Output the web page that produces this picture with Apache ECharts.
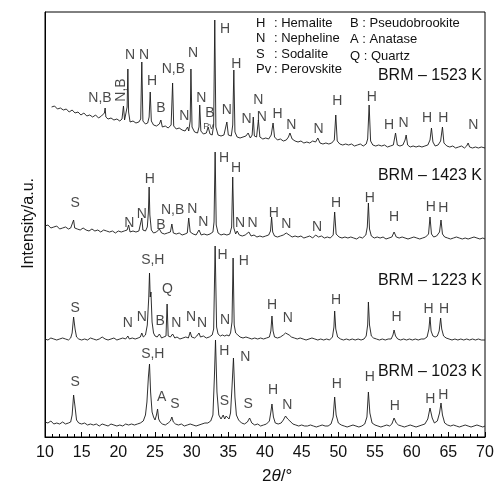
<!DOCTYPE html>
<html>
<head>
<meta charset="utf-8">
<script src="https://cdn.jsdelivr.net/npm/echarts@6/dist/echarts.min.js"></script>
<style>
html,body{margin:0;padding:0;background:#fff}
#main{width:497px;height:486px}
</style>
</head>
<body>
<div id="main"></div>
<script>
// 2theta (deg) / stacked intensity (a.u., already offset per sample)
var p1023 = [[10.0,15],[10.4,14],[10.8,16],[11.2,13],[11.6,14],[12.0,13],[12.4,15],[12.8,13],[13.2,14],[13.5,15],[13.7,22],[13.9,42],[14.1,30],[14.3,17],[14.6,14],[15.0,13],[15.4,14],[15.8,12],[16.2,13],[16.6,12],[17.0,13],[17.4,11],[17.8,13],[18.2,12],[18.6,11],[19.0,13],[19.4,12],[19.8,11],[20.2,12],[20.6,11],[21.0,13],[21.4,12],[21.8,13],[22.2,12],[22.6,13],[23.0,14],[23.4,16],[23.7,22],[23.9,35],[24.1,60],[24.25,73],[24.4,45],[24.6,25],[24.8,20],[25.0,17],[25.2,22],[25.35,28],[25.5,18],[25.7,15],[26.0,13],[26.4,12],[26.8,14],[27.1,16],[27.3,20],[27.5,15],[27.8,13],[28.2,12],[28.6,13],[29.0,11],[29.4,12],[29.8,13],[30.2,12],[30.6,11],[31.0,12],[31.4,13],[31.8,14],[32.2,14],[32.6,16],[32.9,22],[33.1,60],[33.25,97],[33.45,45],[33.7,22],[34.0,18],[34.3,22],[34.5,18],[34.7,21],[34.9,19],[35.1,18],[35.3,24],[35.5,50],[35.7,79],[35.9,40],[36.1,22],[36.4,17],[36.8,14],[37.2,13],[37.6,15],[37.9,19],[38.2,14],[38.6,12],[39.0,13],[39.4,11],[39.8,12],[40.2,13],[40.6,16],[40.8,25],[40.95,33],[41.15,20],[41.4,14],[41.8,13],[42.2,14],[42.5,17],[42.8,21],[43.1,18],[43.4,16],[43.8,13],[44.2,12],[44.6,11],[45.0,12],[45.4,11],[45.8,11],[46.2,12],[46.6,11],[47.0,10],[47.4,11],[47.8,12],[48.2,11],[48.6,11],[49.0,13],[49.3,20],[49.5,40],[49.7,22],[50.0,14],[50.4,12],[50.8,11],[51.2,10],[51.6,11],[52.0,12],[52.4,11],[52.8,10],[53.2,11],[53.6,13],[53.9,20],[54.1,45],[54.3,24],[54.6,14],[55.0,12],[55.4,11],[55.8,10],[56.2,11],[56.6,12],[57.0,11],[57.3,13],[57.6,19],[57.9,14],[58.2,12],[58.6,11],[59.0,10],[59.4,11],[59.8,12],[60.2,11],[60.6,10],[61.0,11],[61.4,12],[61.8,13],[62.2,18],[62.5,29],[62.8,19],[63.1,14],[63.5,16],[63.8,24],[64.0,34],[64.2,22],[64.5,14],[64.9,12],[65.3,11],[65.7,12],[66.1,11],[66.5,10],[66.9,11],[67.3,12],[67.7,11],[68.1,10],[68.5,11],[68.9,12],[69.3,11],[69.7,10],[70.0,11]];

var p1223 = [[10.0,98],[10.4,97],[10.8,99],[11.2,98],[11.6,97],[12.0,98],[12.4,99],[12.8,98],[13.2,97],[13.5,99],[13.7,104],[13.9,120],[14.1,108],[14.3,100],[14.6,98],[15.0,97],[15.4,98],[15.8,97],[16.2,99],[16.6,98],[17.0,97],[17.4,98],[17.8,100],[18.2,98],[18.6,97],[19.0,98],[19.4,99],[19.8,97],[20.2,98],[20.6,99],[21.0,98],[21.3,101],[21.5,98],[21.9,99],[22.3,98],[22.7,99],[23.0,100],[23.2,104],[23.4,100],[23.7,102],[23.95,112],[24.15,140],[24.25,164],[24.35,140],[24.45,145],[24.6,115],[24.8,104],[25.0,101],[25.3,100],[25.6,103],[25.9,99],[26.2,100],[26.5,101],[26.65,133],[26.8,101],[27.1,100],[27.4,103],[27.7,99],[28.0,100],[28.4,98],[28.8,99],[29.2,100],[29.55,99],[29.8,105],[30.0,100],[30.4,99],[30.7,101],[31.0,104],[31.2,100],[31.6,101],[32.0,99],[32.4,100],[32.8,102],[33.0,108],[33.2,191],[33.4,110],[33.6,103],[33.9,101],[34.2,102],[34.5,101],[34.8,102],[35.1,101],[35.3,104],[35.5,115],[35.65,179],[35.8,112],[36.0,104],[36.3,102],[36.6,100],[37.0,99],[37.4,100],[37.8,99],[38.2,98],[38.6,99],[39.0,98],[39.4,99],[39.8,98],[40.2,99],[40.6,100],[40.8,106],[40.95,121],[41.1,106],[41.3,100],[41.7,99],[42.1,100],[42.5,102],[42.8,104],[43.0,104],[43.3,102],[43.6,100],[44.0,99],[44.4,98],[44.8,99],[45.2,98],[45.6,97],[46.0,98],[46.4,99],[46.8,98],[47.2,97],[47.6,98],[48.0,97],[48.4,98],[48.8,97],[49.2,100],[49.4,110],[49.5,126],[49.65,108],[49.9,100],[50.3,98],[50.7,97],[51.1,98],[51.5,97],[51.9,98],[52.3,97],[52.7,98],[53.1,97],[53.5,98],[53.8,101],[54.0,112],[54.1,135],[54.25,112],[54.5,101],[54.8,99],[55.2,98],[55.6,97],[56.0,98],[56.4,97],[56.8,98],[57.2,98],[57.45,102],[57.6,107],[57.8,101],[58.1,98],[58.5,97],[58.9,98],[59.3,97],[59.7,98],[60.1,97],[60.5,98],[60.9,97],[61.3,98],[61.7,98],[62.1,100],[62.35,108],[62.5,120],[62.65,106],[62.9,101],[63.2,100],[63.5,101],[63.75,106],[63.95,119],[64.1,108],[64.35,101],[64.7,99],[65.1,98],[65.5,97],[65.9,98],[66.3,97],[66.7,98],[67.1,97],[67.5,98],[67.9,97],[68.3,98],[68.7,97],[69.1,98],[69.5,97],[70.0,97]];

var p1423 = [[10.0,211],[10.4,212],[10.8,209],[11.2,210],[11.6,211],[12.0,208],[12.4,209],[12.8,210],[13.2,208],[13.5,209],[13.75,210],[13.9,217],[14.05,209],[14.4,208],[14.8,207],[15.2,209],[15.6,207],[16.0,206],[16.4,208],[16.8,206],[17.2,207],[17.6,205],[18.0,207],[18.4,206],[18.8,205],[19.2,206],[19.6,204],[20.0,206],[20.4,205],[20.8,206],[21.2,207],[21.4,212],[21.6,205],[22.0,206],[22.4,205],[22.8,206],[23.05,208],[23.2,219],[23.35,207],[23.7,206],[23.95,210],[24.1,225],[24.2,250],[24.3,222],[24.5,207],[24.8,204],[25.2,205],[25.6,208],[25.9,204],[26.3,203],[26.7,204],[27.1,205],[27.3,213],[27.5,204],[27.9,203],[28.3,204],[28.7,202],[29.1,203],[29.4,204],[29.6,219],[29.8,205],[30.2,203],[30.6,202],[31.0,207],[31.3,202],[31.7,203],[32.1,202],[32.5,203],[32.9,205],[33.05,215],[33.2,285],[33.35,212],[33.6,204],[34.0,202],[34.4,203],[34.8,202],[35.2,203],[35.45,210],[35.6,260],[35.75,209],[36.0,203],[36.2,206],[36.5,202],[36.9,201],[37.3,202],[37.8,205],[38.1,201],[38.5,202],[38.9,200],[39.3,201],[39.7,200],[40.1,201],[40.5,202],[40.75,206],[40.9,220],[41.05,205],[41.3,201],[41.7,200],[42.1,201],[42.5,202],[42.9,204],[43.3,202],[43.7,200],[44.1,201],[44.5,200],[44.9,201],[45.3,199],[45.7,200],[46.1,201],[46.5,199],[46.9,202],[47.3,200],[47.7,201],[48.1,199],[48.5,200],[48.9,199],[49.3,202],[49.5,225],[49.7,203],[50.1,200],[50.5,199],[50.9,200],[51.3,199],[51.7,200],[52.1,199],[52.5,198],[52.9,200],[53.3,199],[53.75,202],[53.95,210],[54.1,234],[54.25,208],[54.5,201],[54.9,199],[55.3,200],[55.7,199],[56.1,200],[56.5,198],[56.9,199],[57.3,200],[57.6,205],[57.9,200],[58.3,199],[58.7,200],[59.1,199],[59.5,198],[59.9,199],[60.3,200],[60.7,199],[61.1,198],[61.5,199],[61.9,200],[62.3,203],[62.5,220],[62.7,203],[63.0,200],[63.4,201],[63.8,205],[64.0,217],[64.2,203],[64.5,200],[64.9,199],[65.3,198],[65.7,199],[66.1,200],[66.5,199],[66.9,198],[67.3,199],[67.7,198],[68.1,199],[68.5,200],[68.9,199],[69.3,198],[69.7,199],[70.0,198]];

var p1523 = [[10.9,330],[11.3,331],[11.7,328],[12.1,329],[12.5,327],[12.9,328],[13.3,325],[13.7,327],[14.1,324],[14.5,325],[14.9,322],[15.3,324],[15.7,321],[16.1,322],[16.5,320],[16.9,322],[17.3,319],[17.7,321],[17.95,319],[18.1,324],[18.2,329],[18.3,320],[18.6,318],[19.0,319],[19.4,317],[19.8,318],[20.2,316],[20.5,318],[20.7,331],[20.85,317],[21.05,318],[21.2,330],[21.3,368],[21.4,325],[21.6,315],[22.0,316],[22.4,314],[22.8,315],[23.05,318],[23.2,375],[23.35,316],[23.7,313],[24.0,314],[24.2,320],[24.35,345],[24.5,316],[24.8,312],[25.2,311],[25.6,313],[25.8,317],[26.0,310],[26.4,311],[26.8,309],[27.2,312],[27.4,354],[27.55,311],[27.9,308],[28.3,309],[28.7,307],[29.1,306],[29.45,310],[29.6,306],[29.8,316],[29.9,368],[30.05,310],[30.4,305],[30.8,304],[31.0,310],[31.1,332],[31.25,306],[31.6,303],[32.0,304],[32.25,310],[32.5,303],[32.8,302],[33.0,312],[33.15,417],[33.3,310],[33.6,302],[34.0,301],[34.4,302],[34.8,315],[35.0,302],[35.4,301],[35.6,312],[35.75,367],[35.9,305],[36.2,300],[36.6,299],[37.0,300],[37.4,301],[37.7,304],[38.0,299],[38.25,302],[38.4,320],[38.55,301],[38.85,300],[39.1,317],[39.3,300],[39.7,298],[40.1,299],[40.5,298],[40.85,302],[41.1,314],[41.3,300],[41.7,297],[42.1,298],[42.5,296],[42.9,297],[43.2,300],[43.4,304],[43.7,298],[44.1,296],[44.5,295],[44.9,296],[45.3,294],[45.7,295],[46.1,294],[46.5,296],[46.9,295],[47.2,299],[47.5,294],[47.9,293],[48.3,294],[48.7,293],[49.1,294],[49.45,297],[49.65,322],[49.85,296],[50.2,293],[50.6,292],[51.0,293],[51.4,292],[51.8,293],[52.2,291],[52.6,292],[53.0,293],[53.4,291],[53.8,293],[54.0,298],[54.2,332],[54.4,296],[54.7,292],[55.1,291],[55.5,292],[55.9,291],[56.3,292],[56.7,290],[57.1,291],[57.5,292],[57.8,304],[58.05,292],[58.4,291],[58.8,292],[59.1,297],[59.25,302],[59.45,292],[59.8,290],[60.2,291],[60.6,290],[61.0,291],[61.4,290],[61.8,291],[62.2,292],[62.5,297],[62.7,309],[62.9,295],[63.2,291],[63.6,292],[63.95,296],[64.2,310],[64.4,294],[64.8,291],[65.2,290],[65.6,291],[66.0,289],[66.4,290],[66.8,291],[67.2,289],[67.5,291],[67.7,294],[67.9,290],[68.3,289],[68.7,290],[69.1,289],[69.5,290],[70.0,289]];

// phase labels: [2theta, height, text]
var lab1523 = [[17.5,339,'N,B'],[21.6,382,'N'],[23.5,382,'N'],[24.6,356,'H'],[25.8,329,'B'],[27.5,368,'N,B'],[30.2,384,'N'],[29.0,321,'N'],[31.3,339,'N'],[32.5,324,'B'],[34.55,408,'H'],[34.8,327,'N'],[36.1,373,'H'],[37.5,318,'N'],[39.1,337,'N'],[39.55,320,'N'],[41.7,323,'H'],[43.6,312,'N'],[47.3,308,'N'],[49.85,336,'H'],[54.55,340,'H'],[56.9,312,'H'],[58.9,314,'N'],[62.1,319,'H'],[64.3,319,'H'],[68.4,312,'N']];
var lab1523rot = [[20.45,347,'N,B']];
var lab1523small = [[32.3,310,'Pv']];
var lab1423 = [[14.1,234,'S'],[21.5,214,'N'],[23.2,223,'N'],[24.3,258,'H'],[25.8,212,'B'],[27.4,227,'N,B'],[30.1,228,'N'],[31.6,215,'N'],[34.4,279,'H'],[36.05,269,'H'],[36.6,214,'N'],[38.3,214,'N'],[41.2,224,'H'],[42.9,213,'N'],[47.1,210,'N'],[49.7,234,'H'],[54.3,239,'H'],[57.6,220,'H'],[62.6,230,'H'],[64.3,229,'H']];
var lab1223 = [[14.1,129,'S'],[21.3,114,'N'],[23.2,120,'N'],[24.7,177,'S,H'],[26.7,148,'Q'],[25.7,116,'B'],[27.9,114,'N'],[29.9,120,'N'],[31.4,114,'N'],[34.2,182,'H'],[34.55,117,'N'],[37.1,176,'H'],[40.95,132,'H'],[43.1,119,'N'],[49.7,137,'H'],[57.95,120,'H'],[62.3,128,'H'],[64.4,128,'H']];
var lab1023 = [[14.1,55,'S'],[24.7,83,'S,H'],[25.9,40,'A'],[27.7,33,'S'],[34.45,86,'H'],[34.45,36,'S'],[37.3,80,'N'],[37.7,33,'S'],[41.1,47,'H'],[43.05,32,'N'],[49.8,53,'H'],[54.3,60,'H'],[57.7,31,'H'],[62.55,38,'H'],[64.3,42,'H']];

var sampleNames = ['BRM \u2013 1523 K', 'BRM \u2013 1423 K', 'BRM \u2013 1223 K', 'BRM \u2013 1023 K'];
var legendLeft = [['H', ': Hemalite'], ['N', ': Nepheline'], ['S', ': Sodalite'], ['Pv', ': Perovskite']];
var legendRight = ['B : Pseudobrookite', 'A : Anatase', 'Q : Quartz'];

var FONT = '"Liberation Sans", Arial, Helvetica, sans-serif';
var myChart = echarts.init(document.getElementById('main'));

function lineSeries(data) {
    return {
        type: 'line',
        data: data,
        showSymbol: false,
        symbol: 'none',
        silent: true,
        lineStyle: { color: '#1a1a1a', width: 0.9 },
        z: 2
    };
}

function labelSeries(arr, size, rotate) {
    return {
        type: 'scatter',
        symbolSize: 1,
        itemStyle: { color: 'rgba(0,0,0,0)' },
        silent: true,
        data: arr.map(function (a) { return { name: a[2], value: [a[0], a[1]] }; }),
        label: {
            show: true,
            position: 'inside',
            formatter: '{b}',
            color: '#1a1a1a',
            fontFamily: FONT,
            fontSize: size,
            rotate: rotate || 0
        },
        labelLayout: { hideOverlap: false },
        z: 3
    };
}

var graphics = [];
legendLeft.forEach(function (row, i) {
    var y = 17 + i * 15.3;
    graphics.push({ type: 'text', left: 256, top: y, style: { text: row[0], font: '13px ' + FONT, fill: '#111' } });
    graphics.push({ type: 'text', left: 274, top: y, style: { text: row[1], font: '13px ' + FONT, fill: '#111' } });
});
legendRight.forEach(function (t, i) {
    graphics.push({ type: 'text', left: 350, top: 17 + i * 15.8 + (i == 2 ? 1.5 : 0), style: { text: t, font: '13px ' + FONT, fill: '#111' } });
});
var nameY = [68, 168, 273, 364];
sampleNames.forEach(function (t, i) {
    graphics.push({ type: 'text', right: 15, top: nameY[i], style: { text: t, font: '16px ' + FONT, fill: '#111' } });
});
graphics.push({
    type: 'text', left: 262, top: 468,
    style: {
        text: '2{i|\u03b8}/\u00b0',
        font: '17px ' + FONT, fill: '#111',
        rich: { i: { fontStyle: 'italic', fontSize: 17, fontFamily: FONT, fill: '#111' } }
    }
});
graphics.push({
    type: 'text', left: 21, top: 178, rotation: Math.PI / 2,
    style: { text: 'Intensity/a.u.', font: '16px ' + FONT, fill: '#111' }
});

option = {
    animation: false,
    backgroundColor: '#fff',
    grid: { left: 45, right: 12, top: 12, bottom: 49, show: true, borderColor: '#000', borderWidth: 1 },
    xAxis: {
        type: 'value',
        min: 10,
        max: 70,
        interval: 5,
        axisLine: { lineStyle: { color: '#000', width: 1 } },
        axisTick: { inside: true, length: 5, lineStyle: { color: '#000' } },
        minorTick: { show: true, splitNumber: 5, length: 3, lineStyle: { color: '#000' } },
        axisLabel: { color: '#111', fontSize: 16, fontFamily: FONT, margin: 8 },
        splitLine: { show: false }
    },
    yAxis: {
        type: 'value',
        min: 0,
        max: 425,
        axisLine: { show: true, lineStyle: { color: '#000' } },
        axisTick: { show: false },
        axisLabel: { show: false },
        splitLine: { show: false }
    },
    series: [
        lineSeries(p1023),
        lineSeries(p1223),
        lineSeries(p1423),
        lineSeries(p1523),
        labelSeries(lab1523, 14),
        labelSeries(lab1523rot, 14, 90),
        labelSeries(lab1523small, 9),
        labelSeries(lab1423, 14),
        labelSeries(lab1223, 14),
        labelSeries(lab1023, 14)
    ],
    graphic: graphics
};

myChart.setOption(option, true);
</script>
</body>
</html>
